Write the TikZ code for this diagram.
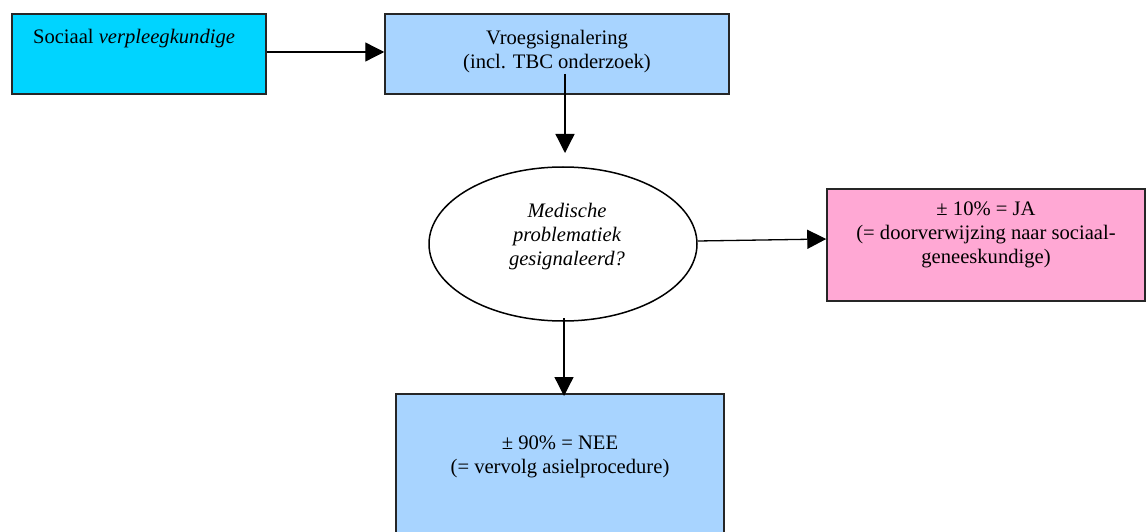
\documentclass[tikz,border=0pt]{standalone}
\usepackage{fontspec}
\setmainfont{Liberation Serif}
\usepackage{xcolor}
\usepackage{tikz}
\usetikzlibrary{arrows.meta,positioning,shapes.geometric}
\definecolor{SocCyan}{HTML}{00D4FF}
\definecolor{ProcBlue}{HTML}{A8D4FF}
\definecolor{RefPink}{HTML}{FFA8D4}
\tikzset{
	box/.style={draw=black!85,line width=1.5pt,rectangle,inner sep=0pt},
	txt/.style={font=\fontsize{20.6}{24}\selectfont,align=center,inner sep=0pt},
	flow/.style={line width=1.3pt,-{Triangle[length=19pt,width=19pt]}}
}

\begin{document}
\begin{tikzpicture}[x=1pt,y=-1pt]
		\useasboundingbox (0,0) rectangle (1146,532);
		\node[box,fill=SocCyan,minimum width=254pt,minimum height=80pt] (soc) at (139,54) {};
		\node[box,fill=ProcBlue,minimum width=344pt,minimum height=80pt] (vroeg) at (557,54) {};
		\node[ellipse,draw,line width=1.5pt,fill=white,minimum width=268pt,minimum height=154pt] (medisch) at (563,244) {};
		\node[box,fill=RefPink,minimum width=318pt,minimum height=112pt] (ja) at (986,245) {};
		\node[box,fill=ProcBlue,minimum width=328pt,minimum height=152pt] (nee) at (560,470) {};
		\node[txt] (soctxt) at (134,39) {Sociaal \textit{verpleegkundige}};
		\node[txt] (vroegtxt) at (557,52) {Vroegsignalering\\(incl. TBC onderzoek)};
		\node[txt,font=\fontsize{20.6}{24}\itshape] (medtxt) at (567,237) {Medische\\problematiek\\gesignaleerd?};
		\node[txt] (jatxt) at (986,235) {± 10\% = JA\\(= doorverwijzing naar sociaal-\\geneeskundige)};
		\node[txt] (neetxt) at (560,457) {± 90\% = NEE\\(= vervolg asielprocedure)};
		\coordinate (vroegout) at (565,74);
		\coordinate (medin) at (565,153);
		\coordinate (medout) at (564,318);
		\coordinate (neein) at (564,396);
		\draw[flow] (soc.east |- 0,52) -- (vroeg.west |- 0,52);
		\draw[flow] (vroegout) -- (medin);
		\draw[flow] ([yshift=3pt]medisch.east) -- ([yshift=6pt]ja.west);
		\draw[flow] (medout) -- (neein);
	\end{tikzpicture}
\end{document}
